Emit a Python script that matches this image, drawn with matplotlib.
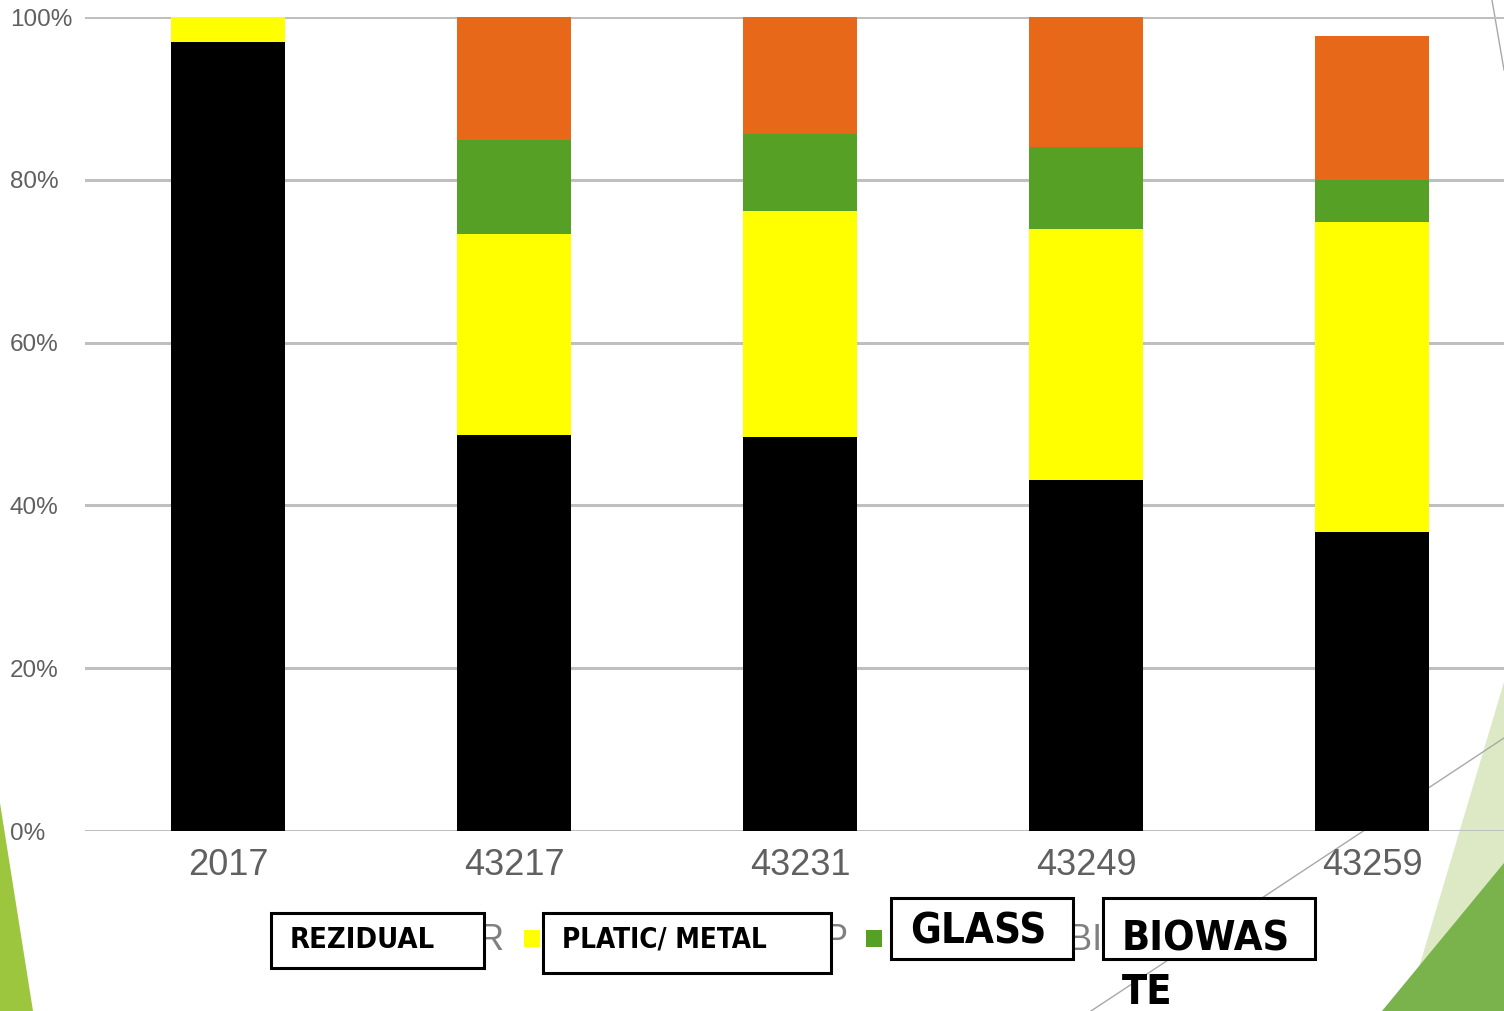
import matplotlib
matplotlib.use("Agg")
import matplotlib.pyplot as plt
from matplotlib.patches import Polygon, Rectangle
from matplotlib.ticker import PercentFormatter
import numpy as np

# categories and shares (fraction of total)
categories = ["2017", "43217", "43231", "43249", "43259"]
rezidual = [0.969, 0.486, 0.484, 0.431, 0.367]
plastic  = [0.031, 0.247, 0.278, 0.309, 0.381]
glass    = [0.000, 0.116, 0.094, 0.100, 0.052]
biowaste = [0.000, 0.151, 0.144, 0.160, 0.177]

series = [rezidual, plastic, glass, biowaste]
colors = ["#000000", "#ffff00", "#56a026", "#e8681a"]

W, H = 1504, 1011
fig = plt.figure(figsize=(W / 100, H / 100), dpi=100)
fig.patch.set_facecolor("white")


def px(x, y):
    # pixel (from top-left) -> figure fraction
    return (x / W, 1 - y / H)


# slide decoration behind the chart
deco = [
    ([(0, 803), (33, 1011), (0, 1011)], "#9dc63f"),
    ([(1504, 682), (1406, 1011), (1504, 1011)], "#dde9c4"),
    ([(1504, 863), (1382, 1011), (1504, 1011)], "#7ab24c"),
]
for pts, c in deco:
    fig.add_artist(Polygon([px(*p) for p in pts], closed=True, transform=fig.transFigure,
                           facecolor=c, edgecolor="none", zorder=-5))
for (x0, y0), (x1, y1) in [((1091, 1011), (1504, 738)), ((1492, 0), (1504, 70))]:
    a, b = px(x0, y0), px(x1, y1)
    fig.add_artist(plt.Line2D([a[0], b[0]], [a[1], b[1]], transform=fig.transFigure,
                              color="#a8a8a8", lw=1, zorder=-4))

# axes: 0% at y=831, 100% at y=17, left at x=85, category spacing 286px
left, bottom = 85 / W, 1 - 831 / H
ax = fig.add_axes([left, bottom, 1430 / W, (831 - 17) / H])
ax.patch.set_visible(False)

x = np.arange(len(categories))
base = np.zeros(len(categories))
for vals, c in zip(series, colors):
    ax.bar(x, vals, width=0.4, bottom=base, color=c, edgecolor="none", zorder=3)
    base += np.array(vals)

ax.set_xlim(-0.5, 4.5)
ax.set_ylim(0, 1)
ax.set_yticks(np.arange(0, 1.01, 0.2))
ax.yaxis.set_major_formatter(PercentFormatter(1.0, decimals=0))
ax.set_xticks(x)
ax.set_xticklabels(categories)
ax.yaxis.grid(True, color="#bfbfbf", lw=2.2, zorder=0)
ax.set_axisbelow(True)
for s in ax.spines.values():
    s.set_visible(False)

ax.tick_params(axis="y", length=0, pad=54, labelsize=17.5, labelcolor="#606060")
ax.tick_params(axis="x", length=0, pad=12, labelsize=26, labelcolor="#606060")
for lab in ax.get_yticklabels():
    lab.set_fontfamily("Liberation Sans")
    lab.set_ha("left")
for lab in ax.get_xticklabels():
    lab.set_fontfamily("Liberation Sans")

# original legend remnants (mostly covered by boxes)
for sx, c in [(524, "#ffff00"), (866, "#56a026")]:
    x0, y0 = px(sx, 947)
    fig.add_artist(Rectangle((x0, y0), 16 / W, 17 / H, transform=fig.transFigure,
                             facecolor=c, edgecolor="none", zorder=4))
for tx, t in [(478, "R"), (824, "P"), (1068, "BI")]:
    fig.text(*px(tx, 940), t, fontsize=26, color="#808080", ha="left", va="center",
             family="Liberation Sans", zorder=4)

# white label boxes on top: box, text, text x, text y, font size, target width of widest line
boxes = [
    ((271, 913, 484, 968), "REZIDUAL", 290, 940, 24, 146),
    ((543, 913, 831, 973), "PLATIC/ METAL", 562, 940, 24, 205),
    ((891, 898, 1073, 959), "GLASS", 910, 931, 37, 136),
    ((1103, 898, 1315, 959), "BIOWAS\nTE", 1122, 966, 37, 168),
]
renderer = fig.canvas.get_renderer()
for (x0, y0, x1, y1), txt, tx, ty, fs, tw in boxes:
    a = px(x0, y1)
    fig.add_artist(Rectangle(a, (x1 - x0) / W, (y1 - y0) / H, transform=fig.transFigure,
                             facecolor="white", edgecolor="black", lw=2.2, zorder=5))
    t = fig.text(*px(tx, ty), txt, fontsize=fs, fontweight="bold", color="black",
                 ha="left", va="center", linespacing=1.45, fontstretch="condensed",
                 family="DejaVu Sans", zorder=6)
    # squeeze font so the widest line fits the width seen in the slide
    wdt = t.get_window_extent(renderer).width
    if wdt > tw:
        t.set_fontsize(fs * tw / wdt)

fig.savefig("out.png", dpi=100, facecolor="white")
